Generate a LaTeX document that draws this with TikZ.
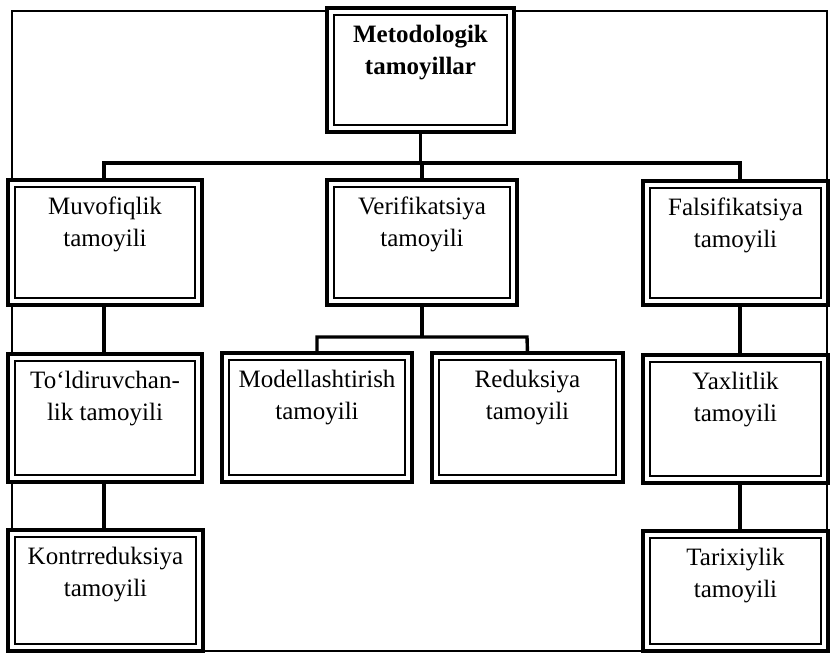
\documentclass[tikz,border=0pt]{standalone}
\usepackage{fontspec}
\setmainfont{Liberation Serif}
\usetikzlibrary{fit}
\tikzset{
  box/.style={draw, line width=3.5pt, fill=white, inner sep=0pt, outer sep=0pt},
  innerline/.style={line width=2.2pt},
  txt/.style={align=center, inner sep=0pt, anchor=north, font=\fontsize{25}{32}\selectfont},
  conn/.style={line width=3.4pt},
  frame/.style={line width=1.8pt}
}
\newcommand\dbox[6]{%
  \coordinate (#1-a) at (#2,#3);
  \coordinate (#1-b) at (#4,#5);
  \node[box, fit=(#1-a)(#1-b)] (#1) {};
  \draw[innerline] ([shift={(7pt,7pt)}]#1.south west) rectangle ([shift={(-7pt,-7pt)}]#1.north east);
  \node[txt] (#1-t) at ([yshift=-16.5pt]#1.north) {#6};
}
\begin{document}
\begin{tikzpicture}[x=1pt,y=-1pt]
\useasboundingbox (0,0) rectangle (830,653);
\draw[frame] (12,11) rectangle (827,651);

% connectors
\coordinate (busL) at (104,163);
\coordinate (busR) at (740,163);
\coordinate (mbusL) at (317,337);
\coordinate (mbusR) at (527,337);

\dbox{top}{327}{8}{514}{132}{\textbf{Metodologik}\\\textbf{tamoyillar}}
\dbox{L2}{8}{180}{202}{305}{Muvofiqlik\\tamoyili}
\dbox{M2}{327}{180}{517}{305}{Verifikatsiya\\tamoyili}
\dbox{R2}{643}{181}{828}{305}{Falsifikatsiya\\tamoyili}
\dbox{L3}{8}{354}{202}{482}{To‘ldiruvchan-\\lik tamoyili}
\dbox{M3a}{222}{353}{412}{482}{Modellashtirish\\tamoyili}
\dbox{M3b}{432}{353}{623}{482}{Reduksiya\\tamoyili}
\dbox{R3}{643}{355}{828}{483}{Yaxlitlik\\tamoyili}
\dbox{L4}{8}{530}{203}{651}{Kontrreduksiya\\tamoyili}
\dbox{R4}{643}{531}{828}{651}{Tarixiylik\\tamoyili}

\draw[conn] (top.south) -- (top.south |- busL);
\draw[conn] (busL |- L2.north) -- (busL) -- (busR) -- (busR |- R2.north);
\draw[conn] (M2.north) -- (M2.north |- busL);

\draw[conn] (M2.south) -- (M2.south |- mbusL);
\draw[conn] (M3a.north) -- (mbusL) -- (mbusR) -- (M3b.north);

\draw[conn] (busL |- L2.south) -- (busL |- L3.north);
\draw[conn] (busL |- L3.south) -- (busL |- L4.north);
\draw[conn] (busR |- R2.south) -- (busR |- R3.north);
\draw[conn] (busR |- R3.south) -- (busR |- R4.north);
\end{tikzpicture}
\end{document}
